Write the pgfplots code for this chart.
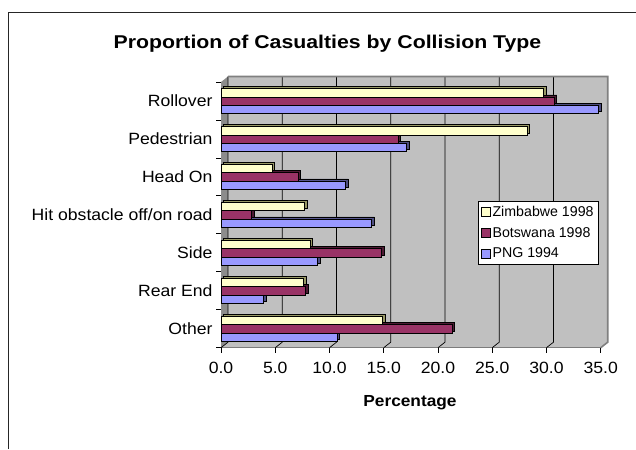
\documentclass[border=0pt]{standalone}
\usepackage{pgfplots}
\pgfplotsset{compat=1.18}
\usepackage{pgfplotstable}
\usepackage{fontspec}
\setmainfont{Liberation Sans}[FakeStretch=1.08]
\newfontfamily\titlefont{Liberation Sans}[FakeStretch=1.15]
\newfontfamily\legfont{Liberation Sans}

\definecolor{zim}{HTML}{FFFFCC}
\definecolor{zimd}{HTML}{999966}
\definecolor{bots}{HTML}{993366}
\definecolor{botsd}{HTML}{4D1A33}
\definecolor{png}{HTML}{9999FF}
\definecolor{pngd}{HTML}{4D4D80}
\definecolor{wall}{HTML}{C0C0C0}
\definecolor{sidewall}{HTML}{8C8C8C}
\definecolor{walledge}{HTML}{808080}

\pgfplotstableread{
cat zim bots png
6 29.7 30.7 34.8
5 28.2 16.3 17.1
4 4.7 7.1 11.5
3 7.7 2.8 13.9
2 8.2 14.8 8.9
1 7.6 7.8 3.9
0 14.9 21.3 10.7
}\datatable

\begin{document}
\begin{tikzpicture}[x=1pt,y=1pt]
\useasboundingbox (0,0) rectangle (636,449);
\draw[line width=1.2pt, black!85] (8.3,0) -- (8.3,436.7) -- (636,436.7);
\node[anchor=base, font=\titlefont\bfseries\fontsize{18.5}{21}\selectfont] at (327.5,400.7) {Proportion of Casualties by Collision Type};
\node[anchor=base, font=\bfseries\fontsize{16}{18}\selectfont] at (410,42) {Percentage};
\begin{axis}[
  at={(221pt,101.3pt)}, anchor=south west,
  scale only axis, width=379.7pt, height=265.7pt,
  xmin=0, xmax=35, ymin=-0.5, ymax=6.5, clip=false,
  axis x line*=bottom, axis y line*=left,
  axis line style={black, line width=0.8pt},
  tick align=outside,
  xtick={0,5,...,35},
  ytick={0,...,6},
  yticklabels={Other,Rear End,Side,Hit obstacle off/on road,Head On,Pedestrian,Rollover},
  minor ytick={-0.5,0.5,...,6.5},
  major tick length=5pt, minor tick length=5pt,
  major y tick style={draw=none},
  minor y tick style={black, line width=0.8pt},
  major x tick style={black, line width=0.8pt},
  x tick label style={font=\fontsize{16.3}{18}\selectfont, yshift=-6pt, /pgf/number format/.cd, fixed, fixed zerofill, precision=1, assume math mode=true},
  y tick label style={font=\fontsize{16.3}{18}\selectfont},
  reverse legend,
  legend style={at={(0.677,0.553)}, anchor=north west, draw=black, fill=white,
    line width=0.8pt, font=\legfont\fontsize{14.2}{16}\selectfont, row sep=5.2pt,
    cells={anchor=west}, inner xsep=2.5pt, inner ysep=3pt},
  legend image code/.code={\draw[#1, draw=black, line width=0.6pt] (0pt,-4.5pt) rectangle (9pt,4.5pt);},
]
% walls and floor
\fill[sidewall] (axis cs:0,-0.5) -- (axis cs:0,6.5) -- ([shift={(7pt,5.5pt)}]axis cs:0,6.5) -- ([shift={(7pt,5.5pt)}]axis cs:0,-0.5) -- cycle;
\fill[wall] ([shift={(7pt,5.5pt)}]axis cs:0,-0.5) rectangle ([shift={(7pt,5.5pt)}]axis cs:35,6.5);
\fill[wall] (axis cs:0,-0.5) -- (axis cs:35,-0.5) -- ([shift={(7pt,5.5pt)}]axis cs:35,-0.5) -- ([shift={(7pt,5.5pt)}]axis cs:0,-0.5) -- cycle;
\pgfplotsinvokeforeach{0,5,10,15,20,25,30}{
  \draw[black, line width=0.7pt] ([shift={(7pt,5.5pt)}]axis cs:#1,6.5) -- ([shift={(7pt,5.5pt)}]axis cs:#1,-0.5) -- (axis cs:#1,-0.5);
}
\draw[walledge, line width=1.6pt] ([shift={(7pt,5.5pt)}]axis cs:0,6.5) -- ([shift={(7pt,5.5pt)}]axis cs:35,6.5) -- ([shift={(7pt,5.5pt)}]axis cs:35,-0.5) -- (axis cs:35,-0.5);
% PNG
\addplot[xbar, bar width=8.2pt, bar shift=-8.2pt, fill=pngd, draw=black, line width=0.6pt, xshift=2.7pt, yshift=2pt, forget plot] table[x=png,y=cat]{\datatable};
\addplot[xbar, bar width=8.2pt, bar shift=-8.2pt, fill=png, draw=black, line width=0.6pt] table[x=png,y=cat]{\datatable};
\addlegendentry{PNG 1994}
% Botswana
\addplot[xbar, bar width=8.2pt, bar shift=0pt, fill=botsd, draw=black, line width=0.6pt, xshift=2.7pt, yshift=2pt, forget plot] table[x=bots,y=cat]{\datatable};
\addplot[xbar, bar width=8.2pt, bar shift=0pt, fill=bots, draw=black, line width=0.6pt] table[x=bots,y=cat]{\datatable};
\addlegendentry{Botswana 1998}
% Zimbabwe
\addplot[xbar, bar width=8.2pt, bar shift=8.2pt, fill=zimd, draw=black, line width=0.6pt, xshift=2.7pt, yshift=2pt, forget plot] table[x=zim,y=cat]{\datatable};
\addplot[xbar, bar width=8.2pt, bar shift=8.2pt, fill=zim, draw=black, line width=0.6pt] table[x=zim,y=cat]{\datatable};
\addlegendentry{Zimbabwe 1998}
\end{axis}
\end{tikzpicture}
\end{document}
